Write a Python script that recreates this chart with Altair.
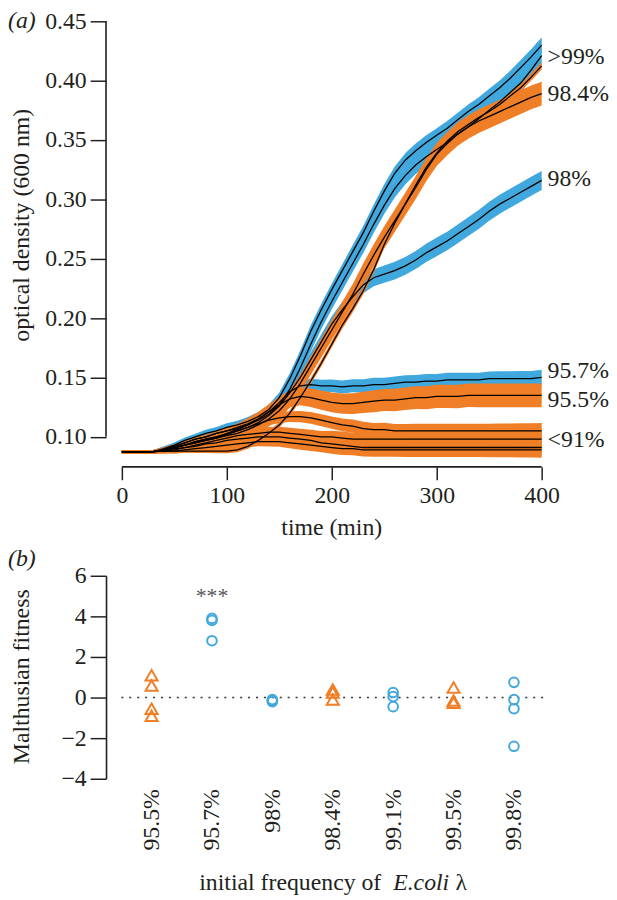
import json
import altair as alt
import pandas as pd

BLUE = "#40a8dd"
ORANGE = "#f07e27"
INK = "#231f20"
FONT = "Liberation Serif, DejaVu Serif, Times New Roman, serif"
FS = 24

# ---------------- panel (a): optical density curves ----------------
TIME = list(range(0, 401, 10))  # minutes, 0..400 every 10

OD_998 = [.0875, .0875, .0875, .0875, .090, .093, .097, .100, .103, .105,
          .108, .110, .113, .117, .123, .133, .149, .168, .189, .207,
          .224, .240, .256, .272, .290, .307, .322, .333, .341, .348,
          .354, .360, .367, .374, .380, .387, .394, .402, .411, .420,
          .430]
OD_991 = [.0875, .0875, .0875, .0875, .089, .092, .095, .098, .100, .103,
          .105, .107, .110, .114, .119, .127, .140, .158, .178, .197,
          .214, .230, .246, .262, .279, .295, .309, .320, .329, .336,
          .342, .348, .355, .361, .368, .375, .382, .390, .398, .409,
          .421]
OD_995 = [.0875, .0875, .0875, .0875, .088, .088, .088, .088, .088, .088,
          .088, .089, .092, .097, .103, .110, .120, .133, .147, .162,
          .178, .194, .208, .223, .241, .262, .280, .296, .312, .327,
          .339, .349, .357, .363, .369, .374, .380, .387, .394, .403,
          .4125]
OD_984 = [.0875, .0875, .0875, .0875, .089, .091, .093, .095, .097, .099,
          .101, .103, .106, .110, .115, .122, .132, .145, .160, .175,
          .190, .205, .220, .237, .253, .268, .282, .296, .310, .325,
          .338, .347, .355, .361, .366, .370, .374, .378, .382, .386,
          .389]
OD_980 = [.0875, .0875, .0875, .0875, .089, .091, .093, .096, .098, .100,
          .102, .105, .108, .112, .118, .126, .137, .150, .165, .180,
          .195, .207, .218, .228, .234, .237, .240, .244, .249, .255,
          .260, .265, .271, .277, .283, .290, .296, .301, .306, .311,
          .316]
OD_957 = [.0875, .0875, .0875, .0875, .089, .092, .095, .098, .100, .103,
          .105, .108, .111, .115, .121, .129, .138, .143, .144, .143,
          .143, .142, .143, .143, .144, .144, .145, .146, .146, .147,
          .147, .148, .148, .148, .148, .149, .149, .149, .149, .149,
          .150]
OD_955 = [.0875, .0875, .0875, .0875, .089, .091, .093, .096, .098, .100,
          .103, .106, .110, .115, .121, .127, .132, .134, .133, .131,
          .129, .128, .128, .129, .130, .131, .131, .132, .133, .133,
          .134, .134, .134, .135, .135, .135, .135, .135, .135, .135,
          .135]
OD_91A = [.0875, .0875, .0875, .0875, .089, .091, .093, .095, .097, .099,
          .102, .105, .108, .111, .114, .116, .117, .117, .116, .114,
          .112, .110, .109, .107, .106, .106, .105, .105, .105, .105,
          .105, .105, .105, .105, .105, .105, .105, .105, .105, .105,
          .105]
OD_91B = [.0875, .0875, .0875, .0875, .088, .090, .091, .093, .095, .097,
          .099, .101, .102, .103, .104, .104, .103, .102, .101, .100,
          .100, .099, .098, .098, .098, .098, .098, .098, .098, .098,
          .098, .098, .098, .098, .098, .098, .098, .098, .098, .098,
          .098]
OD_91C = [.0875, .0875, .0875, .0875, .088, .089, .091, .092, .094, .095,
          .097, .098, .099, .100, .100, .100, .099, .098, .097, .095,
          .094, .093, .092, .091, .091, .091, .091, .091, .091, .091,
          .091, .091, .091, .091, .091, .091, .091, .091, .091, .091,
          .091]
OD_91D = [.0875, .0875, .0875, .0875, .088, .088, .089, .090, .091, .092,
          .093, .094, .095, .096, .096, .096, .095, .094, .093, .092,
          .091, .090, .090, .089, .089, .089, .089, .089, .089, .089,
          .089, .089, .089, .089, .089, .089, .089, .089, .089, .089,
          .089]

# half-width of the shaded error bands
SPREAD_THIN = [.0012, .0012, .0012, .0012, .0013, .0014, .0015, .0016, .0017, .0018,
               .0019, .0020, .0020, .0021, .0022, .0023, .0024, .0025, .0026, .0027,
               .0028, .0029, .0030, .0030, .0030, .0030, .0030, .0030, .0030, .0030,
               .0030, .0030, .0030, .0030, .0030, .0030, .0030, .0030, .0030, .0030,
               .0030]
SPREAD_SMALL = [.0015, .0015, .0015, .0015, .0020, .0022, .0025, .0027, .0030, .0032,
                .0034, .0036, .0038, .0040, .0042, .0044, .0046, .0048, .0050, .0050,
                .0052, .0054, .0055, .0056, .0057, .0058, .0058, .0059, .0060, .0060,
                .0060, .0060, .0060, .0060, .0060, .0061, .0062, .0063, .0064, .0065,
                .0066]
SPREAD_MED = [.0015, .0015, .0015, .0015, .0020, .0024, .0028, .0031, .0034, .0037,
              .0040, .0043, .0046, .0049, .0052, .0055, .0058, .0060, .0062, .0064,
              .0066, .0068, .0070, .0071, .0072, .0073, .0074, .0075, .0076, .0077,
              .0078, .0078, .0079, .0079, .0080, .0080, .0080, .0080, .0080, .0080,
              .0080]
SPREAD_WIDE = [.0015, .0015, .0015, .0015, .0022, .0027, .0032, .0036, .0040, .0044,
               .0048, .0052, .0056, .0060, .0064, .0068, .0072, .0075, .0078, .0081,
               .0084, .0086, .0088, .0090, .0092, .0093, .0094, .0095, .0096, .0097,
               .0098, .0098, .0099, .0099, .0100, .0100, .0100, .0100, .0100, .0100,
               .0100]

CURVES = [
    ("99.8%", "blue", OD_998, SPREAD_SMALL),
    ("99.1%", "blue", OD_991, SPREAD_MED),
    ("98%", "blue", OD_980, SPREAD_MED),
    ("95.7%", "blue", OD_957, SPREAD_SMALL),
    ("99.5%", "orange", OD_995, SPREAD_THIN),
    ("98.4%", "orange", OD_984, SPREAD_WIDE),
    ("95.5%", "orange", OD_955, SPREAD_WIDE),
    ("<91% a", "orange", OD_91A, SPREAD_SMALL),
    ("<91% b", "orange", OD_91B, SPREAD_SMALL),
    ("<91% c", "orange", OD_91C, SPREAD_SMALL),
    ("<91% d", "orange", OD_91D, SPREAD_SMALL),
]

END_LABELS = [">99%", "98.4%", "98%", "95.7%", "95.5%", "<91%"]
END_LABEL_OD = [0.420, 0.389, 0.317, 0.155, 0.131, 0.097]

OD_TICKS = [0.10, 0.15, 0.20, 0.25, 0.30, 0.35, 0.40, 0.45]
TIME_TICKS = [0, 100, 200, 300, 400]

# ---------------- panel (b): Malthusian fitness ----------------
FIT_CATS = ["95.5%", "95.7%", "98%", "98.4%", "99.1%", "99.5%", "99.8%"]
FIT_KIND = ["orange", "blue", "blue", "orange", "blue", "orange", "blue"]
FIT_VALUES = [
    [1.1, 0.6, -0.55, -0.9],
    [3.9, 3.8, 2.8],
    [-0.1, -0.15, -0.2],
    [0.4, 0.25, -0.1],
    [0.25, 0.05, -0.45],
    [0.5, -0.15, -0.25],
    [0.75, -0.1, -0.55, -2.4],
]
FIT_TICKS = [-4, -2, 0, 2, 4, 6]
STAR_INDEX = 1
STAR_VALUE = 5.0

# ---------------- build tables ----------------
rows = []
for name, grp, od, sp in CURVES:
    for t, m, s in zip(TIME, od, sp):
        rows.append(dict(series=name, group=grp, t=t, od=m, lo=m - s, hi=m + s))
curves = pd.DataFrame(rows)

pts = []
for i, (cat, kind, vals) in enumerate(zip(FIT_CATS, FIT_KIND, FIT_VALUES)):
    for v in vals:
        pts.append(dict(idx=i, cat=cat, kind=kind, fit=v))
points = pd.DataFrame(pts)

# ---------------- panel (a) ----------------
W1, H1 = 440, 450
xs = alt.Scale(domain=[-15.1, 400], nice=False, zero=False)
ys = alt.Scale(domain=[0.0747, 0.45], nice=False, zero=False)
xax = alt.Axis(values=TIME_TICKS, domain=False, grid=False, tickSize=13,
               labelPadding=4, title=None, labelFlush=False)
yax = alt.Axis(values=OD_TICKS, format=".2f", domain=False, grid=False,
               tickSize=16, labelPadding=4, title=None)

X = alt.X("t:Q", scale=xs, axis=xax)

band_blue = alt.Chart(curves[curves.group == "blue"]).mark_area(
    color=BLUE, opacity=1
).encode(x=X, y=alt.Y("lo:Q", scale=ys, axis=yax), y2="hi:Q", detail="series:N")

band_orange = alt.Chart(curves[curves.group == "orange"]).mark_area(
    color=ORANGE, opacity=1
).encode(x=X, y=alt.Y("lo:Q", scale=ys, axis=yax), y2="hi:Q", detail="series:N")

lines = alt.Chart(curves).mark_line(color="black", strokeWidth=1.3).encode(
    x=X, y=alt.Y("od:Q", scale=ys, axis=yax), detail="series:N"
)

y_line = alt.Chart(pd.DataFrame({"a": [OD_TICKS[0]], "b": [OD_TICKS[-1]]})).mark_rule(
    color=INK, strokeWidth=1.6
).encode(x=alt.value(0), y=alt.Y("a:Q", scale=ys, axis=yax), y2="b:Q")

x_line = alt.Chart(pd.DataFrame({"a": [TIME_TICKS[0]], "b": [TIME_TICKS[-1]]})).mark_rule(
    color=INK, strokeWidth=1.6
).encode(x=alt.X("a:Q", scale=xs, axis=xax), x2="b:Q", y=alt.value(H1))

end_df = pd.DataFrame({"lab": END_LABELS, "od": END_LABEL_OD, "t": [TIME[-1]] * len(END_LABELS)})
end_labels = alt.Chart(end_df).mark_text(
    align="left", baseline="middle", dx=6, font=FONT, fontSize=FS, color=INK
).encode(x=X, y=alt.Y("od:Q", scale=ys, axis=yax), text="lab:N")

def note(txt, x, y, **kw):
    opts = dict(font=FONT, fontSize=FS, color=INK, align="center", baseline="middle")
    opts.update(kw)
    return alt.Chart(pd.DataFrame({"s": [txt]})).mark_text(**opts).encode(
        text="s:N", x=alt.value(x), y=alt.value(y)
    )

tag_a = note("(a)", -99, 0, align="left", fontStyle="italic")
ytitle_a = note("optical density (600 nm)", -85, 206, angle=270)
xtitle_a = note("time (min)", 228, 512)

top = alt.layer(band_blue, band_orange, lines, y_line, x_line, end_labels,
                tag_a, ytitle_a, xtitle_a).properties(width=W1, height=H1)

# ---------------- panel (b) ----------------
W2, H2 = 458, 205
label_expr = json.dumps(FIT_CATS) + "[datum.value]"
bxs = alt.Scale(domain=[-0.754, 6.754], nice=False, zero=False)
bys = alt.Scale(domain=[FIT_TICKS[0], FIT_TICKS[-1]], nice=False, zero=False)
bxax = alt.Axis(values=list(range(len(FIT_CATS))), labelExpr=label_expr, labelAngle=-90,
                ticks=False, domain=False, grid=False, labelPadding=10, title=None)
byax = alt.Axis(values=FIT_TICKS, grid=False, tickSize=16, labelPadding=4, title=None,
                domain=True)

zero_line = alt.Chart(pd.DataFrame({"a": [-0.5], "b": [len(FIT_CATS) - 0.5], "y": [0]})).mark_rule(
    color="#333333", strokeWidth=1.6, strokeDash=[2, 6]
).encode(x=alt.X("a:Q", scale=bxs, axis=bxax), x2="b:Q", y=alt.Y("y:Q", scale=bys, axis=byax))

circles = alt.Chart(points[points.kind == "blue"]).mark_point(
    shape="circle", filled=False, color=BLUE, strokeWidth=2, size=95, opacity=1
).encode(x=alt.X("idx:Q", scale=bxs, axis=bxax), y=alt.Y("fit:Q", scale=bys, axis=byax))

triangles = alt.Chart(points[points.kind == "orange"]).mark_point(
    shape="triangle-up", filled=False, color=ORANGE, strokeWidth=2, size=150, opacity=1
).encode(x=alt.X("idx:Q", scale=bxs, axis=bxax), y=alt.Y("fit:Q", scale=bys, axis=byax))

stars = alt.Chart(pd.DataFrame({"idx": [STAR_INDEX], "fit": [STAR_VALUE], "s": ["***"]})).mark_text(
    font=FONT, fontSize=22, color="#555555", baseline="middle"
).encode(x=alt.X("idx:Q", scale=bxs, axis=bxax), y=alt.Y("fit:Q", scale=bys, axis=byax), text="s:N")

tag_b = note("(b)", -99, -17, align="left", fontStyle="italic")
ytitle_b = note("Malthusian fitness", -85, 102, angle=270)
xt1 = note("initial frequency of", 278, 317, align="right", baseline="alphabetic")
xt2 = note("E.coli", 290, 317, align="left", baseline="alphabetic", fontStyle="italic")
xt3 = note("λ", 353, 317, align="left", baseline="alphabetic")

bottom = alt.layer(zero_line, circles, triangles, stars, tag_b, ytitle_b,
                   xt1, xt2, xt3).properties(width=W2, height=H2)

chart = alt.vconcat(top, bottom, spacing=7).properties(
    padding={"left": 0, "top": -3, "right": 0, "bottom": 0}
).configure_view(
    stroke=None
).configure_axis(
    labelFont=FONT, labelFontSize=FS, labelColor=INK, tickColor=INK, tickWidth=1.5,
    domainColor=INK, domainWidth=1.6
)

chart.save("out.html", embed_options={"renderer": "svg", "actions": False})
